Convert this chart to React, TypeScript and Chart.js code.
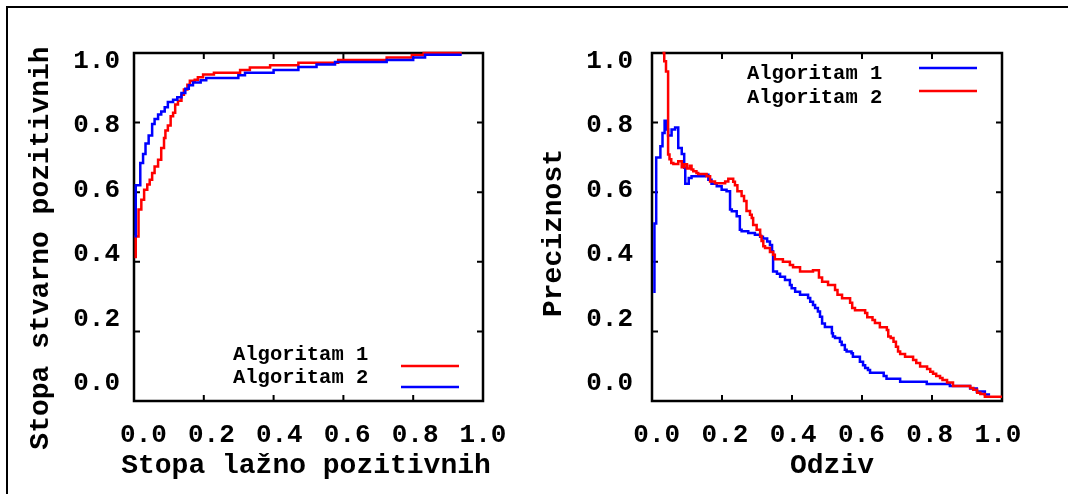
import React, { useEffect, useRef } from "react";
import { Chart, registerables } from "chart.js";

Chart.register(...registerables);

const FONT_FAMILY = '"Liberation Mono", "Courier New", monospace';

// ---------- shared ----------
const seriesNames = ["Algoritam 1", "Algoritam 2"];
const tickValues = [0, 0.2, 0.4, 0.6, 0.8, 1.0];
const innerTickValues = [0.2, 0.4, 0.6, 0.8];

// ---------- ROC (left) ----------
const rocTitleX = "Stopa lažno pozitivnih";
const rocTitleY = "Stopa stvarno pozitivnih";
const rocAlg1X = [0.005, 0.005, 0.013, 0.021, 0.029, 0.038, 0.045, 0.052, 0.059, 0.069, 0.078, 0.086, 0.09, 0.097, 0.105, 0.112, 0.118, 0.126, 0.136, 0.143, 0.153, 0.16, 0.174, 0.183, 0.198, 0.229, 0.304, 0.332, 0.39, 0.471, 0.585, 0.724, 0.796, 0.83, 0.939];
const rocAlg1Y = [0.41, 0.473, 0.55, 0.578, 0.607, 0.622, 0.636, 0.655, 0.674, 0.693, 0.727, 0.756, 0.777, 0.792, 0.818, 0.828, 0.852, 0.863, 0.88, 0.895, 0.909, 0.92, 0.923, 0.93, 0.938, 0.943, 0.951, 0.958, 0.965, 0.972, 0.98, 0.987, 0.994, 1.0, 1.0];
const rocAlg2X = [0.005, 0.005, 0.018, 0.026, 0.033, 0.042, 0.052, 0.059, 0.069, 0.078, 0.088, 0.097, 0.112, 0.124, 0.136, 0.147, 0.157, 0.169, 0.191, 0.207, 0.299, 0.318, 0.4, 0.471, 0.523, 0.576, 0.724, 0.8, 0.834, 0.939];
const rocAlg2Y = [0.47, 0.62, 0.684, 0.71, 0.74, 0.763, 0.796, 0.81, 0.823, 0.832, 0.844, 0.859, 0.866, 0.873, 0.885, 0.897, 0.907, 0.915, 0.922, 0.928, 0.936, 0.943, 0.951, 0.96, 0.967, 0.974, 0.98, 0.987, 0.995, 0.995];

// ---------- Precision / recall (right) ----------
const prTitleX = "Odziv";
const prTitleY = "Preciznost";
const prAlg1X = [0.007, 0.007, 0.012, 0.024, 0.03, 0.036, 0.042, 0.046, 0.056, 0.066, 0.075, 0.085, 0.092, 0.095, 0.105, 0.113, 0.151, 0.161, 0.17, 0.185, 0.199, 0.213, 0.223, 0.228, 0.242, 0.251, 0.256, 0.275, 0.294, 0.309, 0.317, 0.329, 0.337, 0.343, 0.346, 0.357, 0.366, 0.38, 0.394, 0.399, 0.409, 0.423, 0.446, 0.452, 0.46, 0.466, 0.474, 0.48, 0.486, 0.494, 0.514, 0.517, 0.523, 0.537, 0.542, 0.551, 0.556, 0.57, 0.574, 0.594, 0.603, 0.609, 0.617, 0.623, 0.662, 0.67, 0.709, 0.785, 0.851, 0.909, 0.928, 0.951, 0.966];
const prAlg1Y = [0.31, 0.51, 0.7, 0.732, 0.77, 0.805, 0.78, 0.763, 0.78, 0.786, 0.727, 0.71, 0.67, 0.624, 0.641, 0.646, 0.65, 0.636, 0.624, 0.617, 0.607, 0.603, 0.55, 0.545, 0.531, 0.492, 0.488, 0.483, 0.478, 0.472, 0.467, 0.458, 0.448, 0.43, 0.372, 0.366, 0.357, 0.348, 0.333, 0.324, 0.314, 0.305, 0.296, 0.285, 0.276, 0.267, 0.257, 0.242, 0.223, 0.213, 0.195, 0.185, 0.181, 0.17, 0.161, 0.147, 0.142, 0.137, 0.127, 0.113, 0.103, 0.095, 0.089, 0.081, 0.072, 0.064, 0.055, 0.049, 0.043, 0.036, 0.027, 0.019, 0.019];
const prAlg2X = [0.03, 0.035, 0.04, 0.046, 0.05, 0.055, 0.061, 0.075, 0.085, 0.092, 0.1, 0.108, 0.113, 0.118, 0.127, 0.132, 0.156, 0.166, 0.18, 0.209, 0.218, 0.232, 0.237, 0.244, 0.256, 0.263, 0.27, 0.28, 0.285, 0.289, 0.299, 0.309, 0.313, 0.318, 0.323, 0.337, 0.346, 0.351, 0.374, 0.394, 0.403, 0.423, 0.46, 0.477, 0.486, 0.503, 0.523, 0.53, 0.543, 0.566, 0.572, 0.58, 0.609, 0.615, 0.63, 0.637, 0.651, 0.671, 0.675, 0.682, 0.69, 0.697, 0.703, 0.709, 0.723, 0.746, 0.755, 0.766, 0.786, 0.795, 0.803, 0.812, 0.823, 0.83, 0.843, 0.86, 0.909, 0.918, 0.929, 0.938, 0.951, 1.0];
const prAlg2Y = [1.0, 0.976, 0.947, 0.708, 0.695, 0.684, 0.681, 0.689, 0.672, 0.68, 0.668, 0.676, 0.665, 0.66, 0.655, 0.652, 0.646, 0.631, 0.626, 0.631, 0.639, 0.63, 0.62, 0.603, 0.589, 0.575, 0.546, 0.535, 0.526, 0.506, 0.492, 0.474, 0.46, 0.445, 0.44, 0.428, 0.42, 0.407, 0.4, 0.391, 0.384, 0.372, 0.376, 0.355, 0.343, 0.333, 0.319, 0.305, 0.295, 0.282, 0.267, 0.261, 0.253, 0.241, 0.233, 0.224, 0.212, 0.204, 0.185, 0.181, 0.17, 0.156, 0.142, 0.135, 0.127, 0.118, 0.109, 0.099, 0.092, 0.084, 0.078, 0.072, 0.066, 0.06, 0.053, 0.043, 0.037, 0.032, 0.024, 0.02, 0.012, 0.012];

const RED = "#ff0000";
const BLUE = "#0000ff";

type Series = { label: string; xs: number[]; ys: number[]; color: string; order: number };

type PanelSpec = {
  width: number;
  padTop: number;
  padRight: number;
  yAxisWidth: number;
  xAxisHeight: number;
  yLabelPad: number;
  xLabelPad: number;
  xlMin: number;
  xlMax: number;
  ylMin: number;
  ylMax: number;
  series: Series[];
  legend: { textX: number; rows: number[]; lineX0: number; lineX1: number; lineRows: number[] };
  titleX: { text: string; cx: number; cy: number };
  titleY: { text: string; cx: number; cy: number };
};

function makeOverlay(spec: PanelSpec) {
  return {
    id: "gnuOverlay",
    beforeDatasetsDraw(chart: any) {
      const { ctx, chartArea: a, scales } = chart;
      ctx.save();
      ctx.strokeStyle = "#000";
      ctx.lineWidth = 2.5;
      ctx.strokeRect(a.left, a.top, a.right - a.left, a.bottom - a.top);
      ctx.lineWidth = 2;
      const len = 6;
      ctx.beginPath();
      for (const v of innerTickValues) {
        const px = scales.x.getPixelForValue(v);
        const py = scales.y.getPixelForValue(v);
        ctx.moveTo(px, a.bottom);
        ctx.lineTo(px, a.bottom - len);
        ctx.moveTo(px, a.top);
        ctx.lineTo(px, a.top + len);
        ctx.moveTo(a.left, py);
        ctx.lineTo(a.left + len, py);
        ctx.moveTo(a.right, py);
        ctx.lineTo(a.right - len, py);
      }
      ctx.stroke();
      ctx.restore();
    },
    afterDatasetsDraw(chart: any) {
      const { ctx } = chart;
      const lg = spec.legend;
      ctx.save();
      ctx.fillStyle = "#000";
      ctx.font = `bold 20.5px ${FONT_FAMILY}`;
      ctx.textAlign = "left";
      ctx.textBaseline = "middle";
      seriesNames.forEach((name, i) => {
        const ds = chart.data.datasets.find((d: any) => d.label === name);
        ctx.fillStyle = "#000";
        ctx.fillText(name, lg.textX, lg.rows[i]);
        ctx.strokeStyle = ds ? ds.borderColor : "#000";
        ctx.lineWidth = 2.5;
        ctx.beginPath();
        ctx.moveTo(lg.lineX0, lg.lineRows[i]);
        ctx.lineTo(lg.lineX1, lg.lineRows[i]);
        ctx.stroke();
      });
      ctx.fillStyle = "#000";
      ctx.font = `bold 28px ${FONT_FAMILY}`;
      ctx.textAlign = "center";
      ctx.textBaseline = "middle";
      ctx.fillText(spec.titleX.text, spec.titleX.cx, spec.titleX.cy);
      ctx.translate(spec.titleY.cx, spec.titleY.cy);
      ctx.rotate(-Math.PI / 2);
      ctx.fillText(spec.titleY.text, 0, 0);
      ctx.restore();
    },
  };
}

function buildConfig(spec: PanelSpec): any {
  const tickFont = { family: FONT_FAMILY, size: 26, weight: "bold" };
  return {
    type: "line",
    data: {
      datasets: spec.series.map((s) => ({
        label: s.label,
        data: s.xs.map((x, i) => ({ x, y: s.ys[i] })),
        borderColor: s.color,
        backgroundColor: s.color,
        borderWidth: 2.5,
        pointRadius: 0,
        stepped: "before",
        fill: false,
        tension: 0,
        order: s.order,
        clip: 4,
        xAxisID: "x",
        yAxisID: "y",
      })),
    },
    options: {
      responsive: false,
      animation: false,
      events: [],
      layout: {
        autoPadding: false,
        padding: { left: 0, top: spec.padTop, right: spec.padRight, bottom: 0 },
      },
      plugins: {
        legend: { display: false },
        tooltip: { enabled: false },
        title: { display: false },
      },
      scales: {
        x: { type: "linear", display: false, min: 0, max: 1 },
        y: { type: "linear", display: false, min: 0, max: 1 },
        xl: {
          type: "linear",
          axis: "x",
          position: "bottom",
          min: spec.xlMin,
          max: spec.xlMax,
          grid: { display: false, drawTicks: false },
          border: { display: false },
          ticks: {
            font: tickFont,
            color: "#000",
            padding: spec.xLabelPad,
            maxRotation: 0,
            minRotation: 0,
            autoSkip: false,
            callback: (v: any) => Number(v).toFixed(1),
          },
          afterBuildTicks: (s: any) => {
            s.ticks = tickValues.map((v) => ({ value: v }));
          },
          afterFit: (s: any) => {
            s.height = spec.xAxisHeight;
          },
        },
        yl: {
          type: "linear",
          axis: "y",
          position: "left",
          min: spec.ylMin,
          max: spec.ylMax,
          grid: { display: false, drawTicks: false },
          border: { display: false },
          ticks: {
            font: tickFont,
            color: "#000",
            padding: spec.yLabelPad,
            autoSkip: false,
            callback: (v: any) => Number(v).toFixed(1),
          },
          afterBuildTicks: (s: any) => {
            s.ticks = tickValues.map((v) => ({ value: v }));
          },
          afterFit: (s: any) => {
            s.width = spec.yAxisWidth;
          },
        },
      },
    },
    plugins: [makeOverlay(spec)],
  };
}

const leftSpec: PanelSpec = {
  width: 530,
  padTop: 53,
  padRight: 47,
  yAxisWidth: 134,
  xAxisHeight: 93,
  yLabelPad: 14,
  xLabelPad: 19,
  xlMin: -0.028,
  xlMax: 1.0,
  ylMin: -0.0543,
  ylMax: 1.0264,
  series: [
    { label: seriesNames[0], xs: rocAlg1X, ys: rocAlg1Y, color: RED, order: 1 },
    { label: seriesNames[1], xs: rocAlg2X, ys: rocAlg2Y, color: BLUE, order: 0 },
  ],
  legend: { textX: 233, rows: [355, 378], lineX0: 401, lineX1: 459, lineRows: [366, 387] },
  titleX: { text: rocTitleX, cx: 306, cy: 466 },
  titleY: { text: rocTitleY, cx: 40.5, cy: 248 },
};

const rightSpec: PanelSpec = {
  width: 538,
  padTop: 53,
  padRight: 66,
  yAxisWidth: 122,
  xAxisHeight: 93,
  yLabelPad: 19,
  xLabelPad: 19,
  xlMin: -0.0138,
  xlMax: 1.0117,
  ylMin: -0.0543,
  ylMax: 1.0264,
  series: [
    { label: seriesNames[0], xs: prAlg1X, ys: prAlg1Y, color: BLUE, order: 1 },
    { label: seriesNames[1], xs: prAlg2X, ys: prAlg2Y, color: RED, order: 0 },
  ],
  legend: { textX: 217, rows: [74, 98], lineX0: 389, lineX1: 447, lineRows: [68, 91] },
  titleX: { text: prTitleX, cx: 302, cy: 466 },
  titleY: { text: prTitleY, cx: 24, cy: 233 },
};

function Panel({ spec, left }: { spec: PanelSpec; left: number }) {
  const ref = useRef<HTMLCanvasElement | null>(null);
  useEffect(() => {
    if (!ref.current) return;
    const chart = new Chart(ref.current, buildConfig(spec));
    return () => chart.destroy();
  }, [spec]);
  return (
    <canvas
      ref={ref}
      width={spec.width}
      height={494}
      style={{ position: "absolute", left, top: 0, width: spec.width, height: 494 }}
    />
  );
}

export default function App() {
  return (
    <div
      style={{
        position: "absolute",
        left: 0,
        top: 0,
        width: 1068,
        height: 494,
        background: "#fff",
        overflow: "hidden",
      }}
    >
      <div
        style={{
          position: "absolute",
          left: 6,
          top: 6,
          width: 1062,
          height: 488,
          boxSizing: "border-box",
          borderTop: "2px solid #000",
          borderLeft: "2px solid #000",
        }}
      />
      <Panel spec={leftSpec} left={0} />
      <Panel spec={rightSpec} left={530} />
    </div>
  );
}
